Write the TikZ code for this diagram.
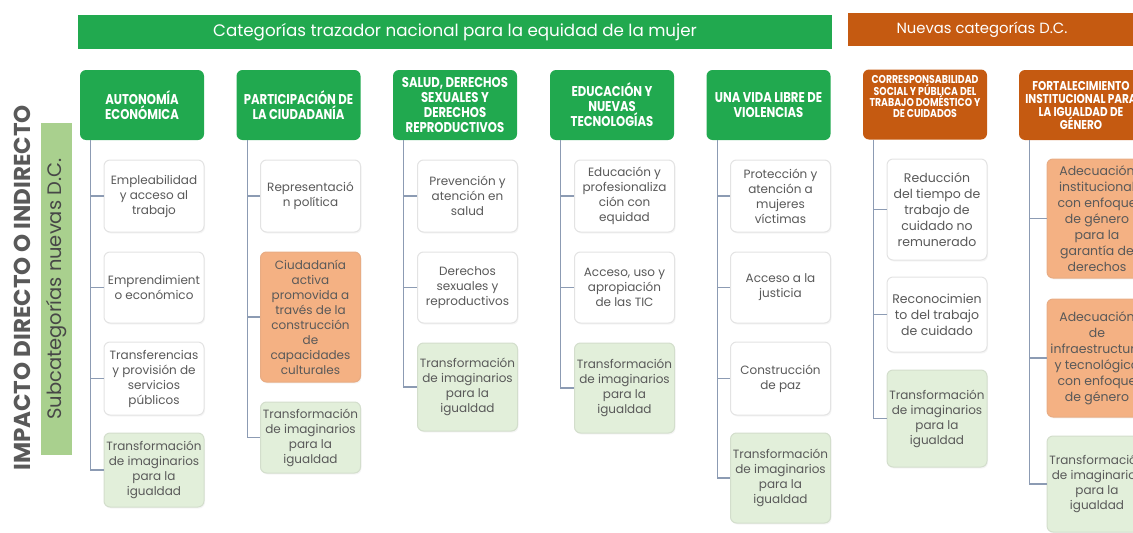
\documentclass[tikz,border=0pt]{standalone}
\usepackage{fontspec}
\setmainfont{Poppins}
\newfontfamily\hdfont{Poppins}[FakeStretch=0.82]
\usetikzlibrary{shadows}
\definecolor{hgreen}{HTML}{21A94F}
\definecolor{horange}{HTML}{C55A11}
\definecolor{lorange}{HTML}{F4B183}
\definecolor{lgreen}{HTML}{E2EFDA}
\definecolor{lgbar}{HTML}{A9D08E}
\definecolor{txtgray}{HTML}{595959}
\definecolor{boxgray}{HTML}{E3E3E3}
\definecolor{linecol}{HTML}{8C9BB3}
\begin{document}
\begin{tikzpicture}[x=1pt,y=-1pt,
  hdr/.style={rounded corners=6pt, fill=hgreen, text=white, minimum width=124pt, minimum height=70pt, align=center, inner sep=1pt, font=\hdfont\bfseries\fontsize{14.2}{15}\selectfont},
  hdro/.style={hdr, fill=horange},
  sub/.style={rounded corners=6pt, draw=boxgray, line width=1pt, fill=white, text=txtgray, minimum width=100pt, align=center, inner sep=1pt, font=\fontsize{12}{15}\selectfont, drop shadow={shadow xshift=1pt, shadow yshift=-1.5pt, opacity=0.08}},
  subg/.style={sub, fill=lgreen, draw=lgreen!85!gray},
  subo/.style={sub, fill=lorange, draw=lorange!90!gray},
  conn/.style={draw=linecol, line width=1.3pt}]
\useasboundingbox (0,0) rectangle (1133,533);
\clip (0,0) rectangle (1133,533);
% left labels
\node[rotate=90, text=txtgray, font=\bfseries\fontsize{23}{23}\selectfont] (imp) at (22,288) {IMPACTO DIRECTO O INDIRECTO};
\node[rotate=90, fill=lgbar, minimum width=332pt, minimum height=31pt, inner sep=0pt, text=txtgray!80!black, font=\fontsize{19.5}{19.5}\selectfont] (subc) at (56.5,289) {Subcategorías nuevas D.C.};
% top bars
\node[fill=hgreen, minimum width=754pt, minimum height=34pt, inner sep=0pt, text=white, font=\fontsize{16.7}{16.7}\selectfont] (tb) at (455,32) {Categorías trazador nacional para la equidad de la mujer};
\node[fill=horange, minimum width=300pt, minimum height=33pt, inner sep=0pt] (ob) at (998,29.5) {};
\node[text=white, font=\fontsize{14.8}{14.8}\selectfont, inner sep=0pt] (obt) at (982,29.5) {Nuevas categorías D.C.};
% headers
\node[hdr] (h1) at (142,105) {AUTONOMÍA\\ECONÓMICA};
\node[hdr] (h2) at (298.5,105) {PARTICIPACIÓN DE\\LA CIUDADANÍA};
\node[hdr] (h3) at (455,105) {SALUD, DERECHOS\\SEXUALES Y\\DERECHOS\\REPRODUCTIVOS};
\node[hdr] (h4) at (612,105) {EDUCACIÓN Y\\NUEVAS\\TECNOLOGÍAS};
\node[hdr] (h5) at (768.5,105) {UNA VIDA LIBRE DE\\VIOLENCIAS};
\node[hdro, font=\hdfont\bfseries\fontsize{11.4}{11.4}\selectfont] (h6) at (925,104.5) {CORRESPONSABILIDAD\\SOCIAL Y PÚBLICA DEL\\TRABAJO DOMÉSTICO Y\\DE CUIDADOS\\[4pt]};
\node[hdro, font=\hdfont\bfseries\fontsize{12.8}{13}\selectfont] (h7) at (1081,105) {FORTALECIMIENTO\\INSTITUCIONAL PARA\\LA IGUALDAD DE\\GÉNERO};
% column 1
\node[sub, minimum height=72pt] (c11) at (154,196) {Empleabilidad\\y acceso al\\trabajo};
\node[sub, minimum height=71pt] (c12) at (154,287.5) {Emprendimient\\o económico};
\node[sub, minimum height=73pt] (c13) at (154,378.5) {Transferencias\\y provisión de\\servicios\\públicos};
\node[subg, minimum height=74pt] (c14) at (154,470) {Transformación\\de imaginarios\\para la\\igualdad};
% column 2
\node[sub, minimum height=72pt] (c21) at (310.5,196) {Representació\\n política};
\node[subo, minimum height=130pt] (c22) at (310.5,317) {Ciudadanía\\activa\\promovida a\\través de la\\construcción\\de\\capacidades\\culturales};
\node[subg, minimum height=71pt] (c23) at (310.5,437.5) {Transformación\\de imaginarios\\para la\\igualdad};
% column 3
\node[sub, minimum height=72pt] (c31) at (467.5,196) {Prevención y\\atención en\\salud};
\node[sub, minimum height=71pt] (c32) at (467.5,287.5) {Derechos\\sexuales y\\reproductivos};
\node[subg, minimum height=88pt] (c33) at (467.5,387) {Transformación\\de imaginarios\\para la\\igualdad};
% column 4
\node[sub, minimum height=72pt] (c41) at (624.5,196) {Educación y\\profesionaliza\\ción con\\equidad};
\node[sub, minimum height=71pt] (c42) at (624.5,287.5) {Acceso, uso y\\apropiación\\de las TIC};
\node[subg, minimum height=90pt] (c43) at (624.5,388) {Transformación\\de imaginarios\\para la\\igualdad};
% column 5
\node[sub, minimum height=72pt] (c51) at (780.5,196) {Protección y\\atención a\\mujeres\\víctimas};
\node[sub, minimum height=71pt] (c52) at (780.5,287.5) {Acceso a la\\justicia};
\node[sub, minimum height=73pt] (c53) at (780.5,378.5) {Construcción\\de paz};
\node[subg, minimum height=90pt] (c54) at (780.5,478) {Transformación\\de imaginarios\\para la\\igualdad};
% column 6
\node[sub, minimum height=101pt, font=\fontsize{12.5}{16}\selectfont] (c61) at (937,209.5) {Reducción\\del tiempo de\\trabajo de\\cuidado no\\remunerado};
\node[sub, minimum height=75pt, font=\fontsize{12.5}{16}\selectfont] (c62) at (937,314.5) {Reconocimien\\to del trabajo\\de cuidado};
\node[subg, minimum height=97pt] (c63) at (937,418.5) {Transformación\\de imaginarios\\para la\\igualdad};
% column 7
\node[subo, minimum height=119pt, font=\fontsize{12.5}{16}\selectfont] (c71) at (1097,218.5) {Adecuación\\institucional\\con enfoque\\de género\\para la\\garantía de\\derechos};
\node[subo, minimum height=118pt, font=\fontsize{12.5}{16}\selectfont] (c72) at (1097,358) {Adecuación\\de\\infraestructura\\y tecnológica\\con enfoque\\de género};
\node[subg, minimum height=96pt] (c73) at (1097,484) {Transformación\\de imaginarios\\para la\\igualdad};
% connectors
\foreach \h/\c in {h1/c11,h1/c12,h1/c13,h1/c14,h2/c21,h2/c22,h2/c23,h3/c31,h3/c32,h3/c33,h4/c41,h4/c42,h4/c43,h5/c51,h5/c52,h5/c53,h5/c54,h6/c61,h6/c62,h6/c63,h7/c71,h7/c72,h7/c73}
  \draw[conn] ([xshift=11pt]\h.south west) |- (\c.west);
\end{tikzpicture}
\end{document}
